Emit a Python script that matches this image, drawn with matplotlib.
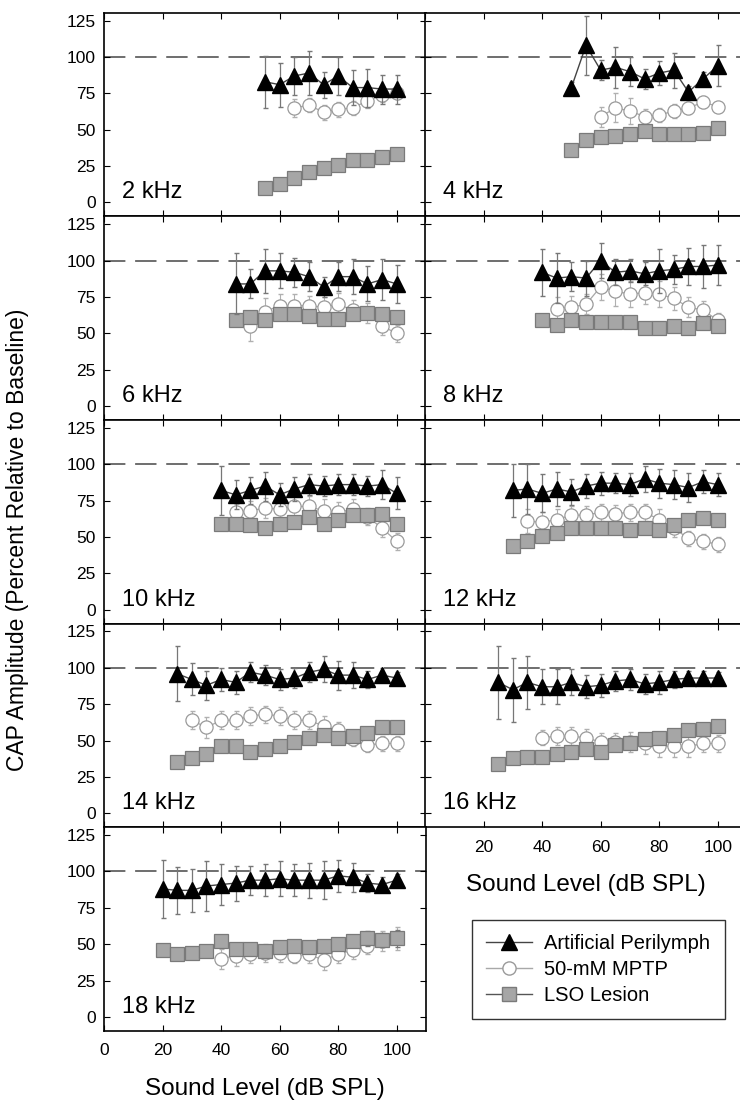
import numpy as np
import matplotlib
matplotlib.use("Agg")
import matplotlib.pyplot as plt
from matplotlib.lines import Line2D

plt.rcParams['font.family'] = ['Liberation Sans', 'DejaVu Sans']

# Panel frequencies (kHz), in reading order
freqs = [2, 4, 6, 8, 10, 12, 14, 16, 18]

# Artificial perilymph (filled triangles): first level (dB SPL), means, SEs
ap_start = {2: 55, 4: 50, 6: 45, 8: 40, 10: 40, 12: 30, 14: 25, 16: 25, 18: 20}
ap_mean = {
  2: [83, 81, 87, 89, 81, 87, 79, 79, 78, 78],
  4: [79, 108, 91, 93, 90, 85, 89, 91, 76, 85, 94],
  6: [84, 84, 93, 93, 92, 89, 82, 89, 89, 84, 87, 84],
  8: [92, 88, 89, 88, 100, 92, 93, 91, 93, 94, 96, 96, 97],
  10: [82, 79, 82, 85, 79, 83, 86, 85, 86, 86, 85, 86, 80],
  12: [82, 83, 80, 83, 81, 85, 87, 87, 86, 90, 87, 86, 84, 88, 86],
  14: [96, 92, 88, 92, 90, 97, 95, 92, 93, 97, 99, 95, 95, 92, 95, 93],
  16: [90, 85, 90, 87, 87, 90, 87, 88, 91, 92, 89, 90, 92, 93, 93, 93],
  18: [88, 87, 87, 90, 91, 92, 94, 94, 95, 94, 94, 94, 97, 96, 92, 91, 94],
}
ap_err = {
  2: [18, 15, 13, 15, 9, 13, 12, 13, 10, 10],
  4: [4, 20, 7, 14, 10, 7, 8, 12, 4, 5, 14],
  6: [21, 10, 15, 12, 10, 10, 7, 10, 12, 12, 14, 13],
  8: [16, 17, 10, 12, 12, 9, 8, 8, 15, 10, 13, 15, 14],
  10: [17, 10, 9, 10, 8, 8, 7, 7, 7, 7, 7, 10, 11],
  12: [18, 17, 13, 12, 9, 8, 8, 7, 8, 9, 10, 10, 10, 8, 8],
  14: [19, 11, 10, 8, 8, 7, 7, 7, 7, 7, 9, 10, 9, 6, 5, 4],
  16: [25, 22, 18, 12, 12, 9, 8, 8, 7, 7, 7, 8, 6, 5, 5, 4],
  18: [20, 16, 15, 17, 14, 12, 10, 11, 12, 11, 12, 13, 11, 10, 6, 5, 4],
}

# 50-mM MPTP (open circles)
mptp_start = {2: 65, 4: 60, 6: 50, 8: 45, 10: 45, 12: 35, 14: 30, 16: 40, 18: 40}
mptp_mean = {
  2: [65, 67, 62, 64, 65, 70, 74, 75],
  4: [59, 65, 63, 59, 60, 63, 65, 69, 66],
  6: [55, 65, 69, 69, 69, 68, 70, 66, 64, 55, 50],
  8: [67, 68, 70, 82, 79, 77, 78, 77, 74, 68, 66, 59],
  10: [67, 68, 70, 69, 71, 71, 68, 67, 69, 64, 56, 47],
  12: [61, 60, 62, 65, 65, 67, 66, 67, 67, 62, 56, 49, 47, 45],
  14: [64, 59, 64, 64, 67, 68, 67, 64, 64, 60, 57, 51, 47, 48, 48],
  16: [52, 53, 53, 52, 49, 49, 49, 48, 46, 46, 46, 48, 48],
  18: [40, 42, 43, 44, 44, 42, 43, 39, 43, 46, 49, 52, 54],
}
mptp_err = {
  2: [6, 5, 5, 5, 5, 5, 5, 4],
  4: [7, 10, 9, 5, 5, 5, 4, 4, 3],
  6: [10, 9, 8, 8, 7, 7, 8, 7, 7, 6, 6],
  8: [8, 8, 7, 9, 10, 9, 8, 9, 8, 7, 6, 5],
  10: [6, 7, 7, 7, 7, 7, 8, 7, 7, 6, 6, 6],
  12: [8, 7, 7, 6, 6, 6, 6, 6, 6, 7, 6, 5, 5, 5],
  14: [6, 7, 6, 6, 6, 6, 6, 6, 6, 7, 6, 5, 5, 5, 5],
  16: [5, 6, 6, 6, 6, 6, 7, 7, 7, 7, 7, 6, 6],
  18: [7, 7, 6, 6, 6, 5, 6, 7, 6, 6, 6, 7, 8],
}

# LSO lesion (gray squares)
lso_start = ap_start
lso_mean = {
  2: [10, 13, 17, 21, 24, 26, 29, 29, 31, 33],
  4: [36, 43, 45, 46, 47, 49, 47, 47, 47, 48, 51],
  6: [59, 61, 59, 63, 63, 62, 60, 60, 63, 64, 63, 61],
  8: [59, 56, 59, 58, 58, 58, 58, 54, 54, 55, 54, 57, 55],
  10: [59, 59, 58, 56, 59, 60, 64, 59, 62, 65, 65, 66, 59],
  12: [44, 47, 51, 53, 56, 56, 56, 56, 55, 56, 55, 58, 62, 63, 62],
  14: [35, 38, 41, 46, 46, 42, 44, 46, 49, 52, 54, 52, 53, 55, 59, 59],
  16: [34, 38, 39, 39, 41, 42, 44, 42, 47, 48, 51, 52, 54, 57, 58, 60],
  18: [46, 43, 44, 45, 52, 47, 47, 45, 48, 49, 48, 49, 50, 52, 54, 53, 54],
}
lso_err = {
  2: [2, 2, 2, 2, 2, 2, 2, 2, 2, 2],
  4: [3, 3, 2, 2, 2, 2, 2, 2, 2, 2, 2],
  6: [3, 3, 3, 3, 3, 3, 3, 3, 3, 3, 3, 3],
  8: [3, 3, 3, 3, 3, 3, 3, 3, 3, 3, 3, 3, 3],
  10: [3, 3, 3, 3, 3, 3, 3, 3, 3, 3, 3, 3, 3],
  12: [3, 3, 3, 3, 3, 3, 3, 3, 3, 3, 3, 3, 3, 3, 3],
  14: [3, 3, 3, 3, 3, 3, 3, 3, 3, 3, 3, 3, 3, 3, 3, 3],
  16: [3, 3, 3, 3, 3, 3, 3, 3, 3, 3, 3, 3, 3, 3, 3, 3],
  18: [3, 3, 3, 3, 4, 4, 4, 4, 4, 4, 4, 4, 4, 4, 5, 5, 6],
}

# Figure geometry (pixels of a 740 x 1104 image)
W, H = 740, 1104
top0 = 12.7
ph = 203.6
pw = 322
col_left = [104, 425]

fig = plt.figure(figsize=(W / 100, H / 100), dpi=100)


def levels(start, n):
  return np.arange(n) * 5 + start


def draw_panel(ax, f, col, row, last):
  ax.axhline(100, color='#6e6e6e', lw=1.4, dashes=(11, 5), zorder=1)

  x = levels(mptp_start[f], len(mptp_mean[f]))
  ax.errorbar(x, mptp_mean[f], yerr=mptp_err[f], fmt='-', color='#a8a8a8', lw=0.9,
              ecolor='#b0b0b0', elinewidth=0.8, capsize=1.8, zorder=2)
  ax.plot(x, mptp_mean[f], 'o', ms=9.5, mfc='white', mec='#9a9a9a', mew=0.9, zorder=3)

  x = levels(lso_start[f], len(lso_mean[f]))
  ax.errorbar(x, lso_mean[f], yerr=lso_err[f], fmt='-', color='#555555', lw=0.9,
              ecolor='#777777', elinewidth=0.8, capsize=1.8, zorder=4)
  ax.plot(x, lso_mean[f], 's', ms=9.5, mfc='#a6a6a6', mec='#7a7a7a', mew=0.9, zorder=5)

  x = levels(ap_start[f], len(ap_mean[f]))
  ax.errorbar(x, ap_mean[f], yerr=ap_err[f], fmt='-', color='#444444', lw=1.0,
              ecolor='#777777', elinewidth=0.9, capsize=1.8, zorder=6)
  ax.plot(x, ap_mean[f], '^', ms=11, mfc='black', mec='black', zorder=7)

  ax.set_xlim(0, 110)
  ax.set_ylim(-9.5, 130.5)
  ax.set_yticks([0, 25, 50, 75, 100, 125])
  ax.set_xticks([0, 20, 40, 60, 80, 100])
  ax.tick_params(direction='in', top=True, right=True, length=4, width=0.8,
                 labelsize=12.5, pad=6)
  ax.tick_params(axis='x', pad=9)
  for s in ax.spines.values():
    s.set_linewidth(1.2)
  if col == 1:
    ax.tick_params(labelleft=False)
  if not last:
    ax.tick_params(labelbottom=False)
  elif col == 1:
    ax.set_xticks([20, 40, 60, 80, 100])
  ax.text(0.055, 0.088, '%d kHz' % f, transform=ax.transAxes, fontsize=17)


for i, f in enumerate(freqs):
  row, col = divmod(i, 2)
  bottom = top0 + (row + 1) * ph
  ax = fig.add_axes([col_left[col] / W, 1 - bottom / H, pw / W, ph / H])
  last = (col == 0 and row == 4) or (col == 1 and row == 3)
  draw_panel(ax, f, col, row, last)
  if last:
    ax.set_xlabel('Sound Level (dB SPL)', fontsize=17.5, labelpad=14)

fig.text(18 / W, 1 - 540 / H, 'CAP Amplitude (Percent Relative to Baseline)',
         rotation=90, ha='center', va='center', fontsize=16.5)

handles = [
  Line2D([], [], color='#444444', lw=1.0, marker='^', ms=11, mfc='black', mec='black'),
  Line2D([], [], color='#a8a8a8', lw=1.0, marker='o', ms=9.5, mfc='white', mec='#9a9a9a'),
  Line2D([], [], color='#555555', lw=1.0, marker='s', ms=9.5, mfc='#a6a6a6', mec='#7a7a7a'),
]
leg = fig.legend(handles, ['Artificial Perilymph', '50-mM MPTP', 'LSO Lesion'],
                 loc='upper left', bbox_to_anchor=(472 / W, 1 - 920 / H),
                 borderaxespad=0, fontsize=14.5, frameon=True, fancybox=False,
                 edgecolor='black', handlelength=2.3, labelspacing=0.35,
                 borderpad=0.7, handletextpad=0.6)
leg.get_frame().set_linewidth(1.0)

fig.savefig('out.png', dpi=100)
